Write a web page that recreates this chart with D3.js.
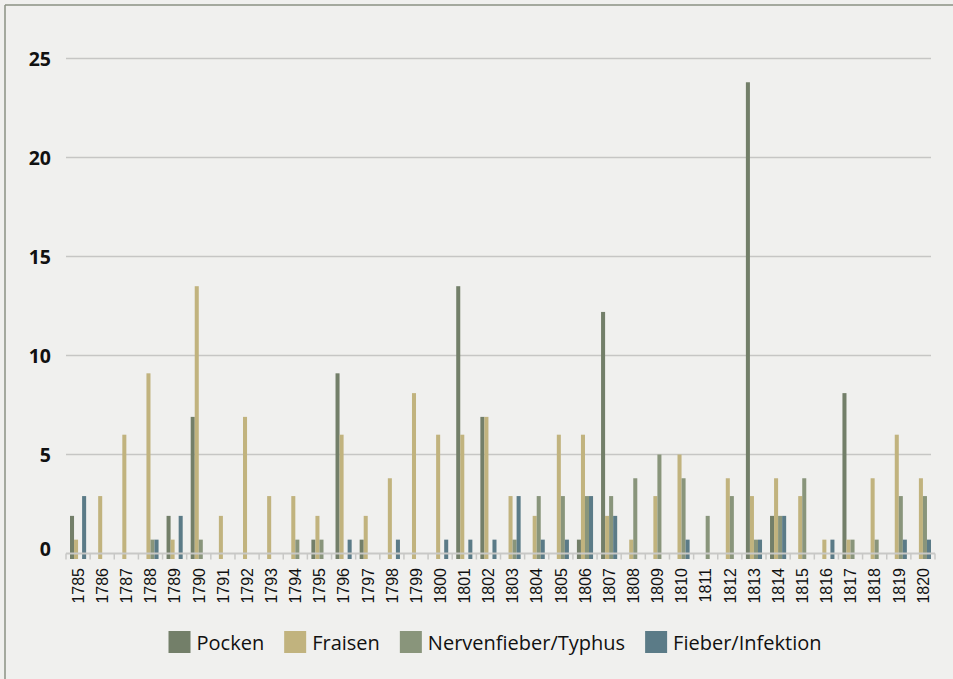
<!DOCTYPE html>
<html>
<head>
<meta charset="utf-8">
<script src="https://cdn.jsdelivr.net/npm/d3@7"></script>
<style>
  html, body { margin: 0; padding: 0; background: #f0f0ee; }
  svg { display: block; }
</style>
</head>
<body>
<svg id="chart" width="953" height="679"></svg>
<script>
const years = ["1785","1786","1787","1788","1789","1790","1791","1792","1793","1794","1795","1796",
  "1797","1798","1799","1800","1801","1802","1803","1804","1805","1806","1807","1808",
  "1809","1810","1811","1812","1813","1814","1815","1816","1817","1818","1819","1820"];
const seriesNames = ["Pocken", "Fraisen", "Nervenfieber/Typhus", "Fieber/Infektion"];
const pocken  = [1.9,0,0,0,1.9,6.9,0,0,0,0,0.7,9.1, 0.7,0,0,0,13.5,6.9,0,0,0,0.7,12.2,0, 0,0,0,0,23.8,1.9,0,0,8.1,0,0,0];
const fraisen = [0.7,2.9,6.0,9.1,0.7,13.5,1.9,6.9,2.9,2.9,1.9,6.0, 1.9,3.8,8.1,6.0,6.0,6.9,2.9,1.9,6.0,6.0,1.9,0.7, 2.9,5.0,0,3.8,2.9,3.8,2.9,0.7,0.7,3.8,6.0,3.8];
const nerven  = [0,0,0,0.7,0,0.7,0,0,0,0.7,0.7,0, 0,0,0,0,0,0,0.7,2.9,2.9,2.9,2.9,3.8, 5.0,3.8,1.9,2.9,0.7,1.9,3.8,0,0.7,0.7,2.9,2.9];
const fieber  = [2.9,0,0,0.7,1.9,0,0,0,0,0,0,0.7, 0,0.7,0,0.7,0.7,0.7,2.9,0.7,0.7,2.9,1.9,0, 0,0.7,0,0,0.7,1.9,0,0.7,0,0,0.7,0.7];
const yTicks = [0, 5, 10, 15, 20, 25];

const values = [pocken, fraisen, nerven, fieber];
const colors = ["#737f69", "#c1b37e", "#89957b", "#5b7b87"];

const svg = d3.select("#chart");
const plotLeft = 66, plotRight = 935, plotTop = 58.5, plotBottom = 553.5;
const barDrop = 5.5;

// frame (only left and top edges visible)
svg.append("line").attr("x1", 5).attr("x2", 5).attr("y1", 5).attr("y2", 679)
  .attr("stroke", "#8b9283").attr("stroke-width", 1.5);
svg.append("line").attr("x1", 5).attr("x2", 953).attr("y1", 5).attr("y2", 5)
  .attr("stroke", "#8b9283").attr("stroke-width", 1.5);

const y = d3.scaleLinear().domain([0, 25]).range([plotBottom, plotTop]);
const x0 = d3.scaleBand().domain(years).range([plotLeft, plotRight]).padding(0);
const x1 = d3.scaleBand().domain(seriesNames).range([4, x0.bandwidth() - 4]);

// gridlines
svg.append("g").selectAll("line")
  .data(yTicks.filter(d => d > 0))
  .join("line")
  .attr("x1", plotLeft).attr("x2", 931)
  .attr("y1", d => y(d)).attr("y2", d => y(d))
  .attr("stroke", "#c6c6c4").attr("stroke-width", 1.5);

// y labels
svg.append("g").selectAll("text")
  .data(yTicks)
  .join("text")
  .attr("x", 51)
  .attr("y", d => y(d) - (d === 0 ? 4.5 : 0))
  .attr("dy", "0.36em")
  .attr("text-anchor", "end")
  .style("font-family", "'Open Sans', sans-serif")
  .style("font-weight", "bold")
  .style("font-size", "19.5px")
  .attr("fill", "#111")
  .text(d => d);

// bars
const groups = svg.append("g").selectAll("g")
  .data(years)
  .join("g")
  .attr("transform", d => `translate(${x0(d)},0)`);

groups.selectAll("rect")
  .data((d, i) => seriesNames.map((s, k) => ({ s, k, v: values[k][i] })).filter(e => e.v > 0))
  .join("rect")
  .attr("x", e => x1(e.s))
  .attr("width", x1.bandwidth())
  .attr("y", e => y(e.v))
  .attr("height", e => y(0) - y(e.v) + barDrop)
  .attr("fill", e => colors[e.k]);

// x axis line and ticks
svg.append("line").attr("x1", plotLeft).attr("x2", plotRight).attr("y1", plotBottom).attr("y2", plotBottom)
  .attr("stroke", "#c8c8c6").attr("stroke-width", 2);
svg.append("g").selectAll("line")
  .data(years.concat(["end"]))
  .join("line")
  .attr("x1", (d, i) => plotLeft + i * x0.step())
  .attr("x2", (d, i) => plotLeft + i * x0.step())
  .attr("y1", plotBottom).attr("y2", plotBottom + barDrop + 0.5)
  .attr("stroke", "#c8c8c6").attr("stroke-width", 1.5);

// year labels
svg.append("g").selectAll("text")
  .data(years)
  .join("text")
  .attr("transform", d => `translate(${x0(d) + x0.bandwidth() / 2},568) rotate(-90)`)
  .attr("dy", "0.36em")
  .attr("text-anchor", "end")
  .style("font-family", "'Liberation Sans', Arial, sans-serif")
  .style("font-size", "16px")
  .attr("fill", "#111")
  .text(d => d);

// legend
const legend = svg.append("g");
const items = legend.selectAll("g")
  .data(seriesNames)
  .join("g");
items.append("rect")
  .attr("width", 22).attr("height", 22).attr("y", 631)
  .attr("fill", (d, i) => colors[i]);
items.append("text")
  .attr("x", 28).attr("y", 650)
  .style("font-family", "'Open Sans', sans-serif")
  .style("font-size", "20px")
  .attr("fill", "#111")
  .text(d => d);
const widths = [];
items.each(function () { widths.push(28 + d3.select(this).select("text").node().getComputedTextLength()); });
const gap = 20;
const total = d3.sum(widths) + gap * (widths.length - 1);
let cursor = 495 - total / 2;
items.attr("transform", (d, i) => {
  const t = `translate(${cursor},0)`;
  cursor += widths[i] + gap;
  return t;
});
</script>
</body>
</html>
